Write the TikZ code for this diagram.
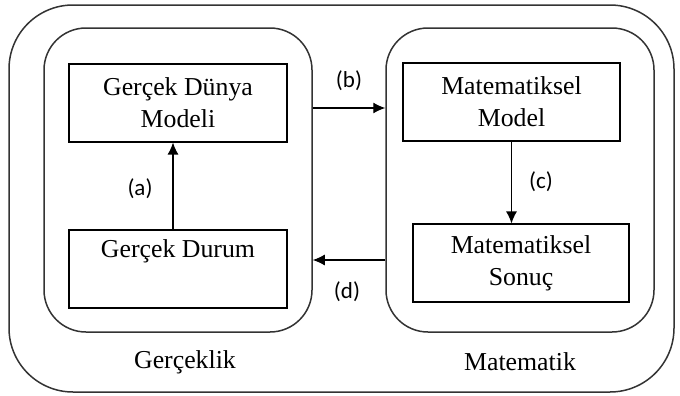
\documentclass[tikz,border=0pt]{standalone}
\usepackage{fontspec}
\setmainfont{Liberation Serif}
\newfontfamily\lblfont{Carlito}
\usetikzlibrary{arrows.meta}
\tikzset{
  frame/.style={draw=black!80, line width=0.75pt, rounded corners=#1, inner sep=0pt},
  stagebox/.style={draw, line width=0.55pt, inner sep=0pt, align=center,
    minimum width=109pt, minimum height=39pt,
    font=\fontsize{12.9}{16}\selectfont},
  arr/.style={line width=0.6pt, -{Latex[length=6pt,width=5.5pt]}},
  steplbl/.style={font=\lblfont\fontsize{11.5}{13}\selectfont, inner sep=0pt},
  arealbl/.style={font=\fontsize{12.9}{15.5}\selectfont, inner sep=0pt}
}
\begin{document}
\begin{tikzpicture}[x=0.5pt, y=-0.5pt]
\useasboundingbox (0,0) rectangle (680,396);
% outer frame
\node[frame=32pt, minimum width=332.5pt, minimum height=193.5pt] (outer) at (341.5,198.5) {};
% the two domains
\node[frame=21pt, minimum width=134pt, minimum height=152pt] (L) at (178,180) {};
\node[frame=21pt, minimum width=134pt, minimum height=152pt] (R) at (520,180) {};
% boxes
\node[stagebox] (GDM) at (178,103) {Gerçek Dünya\\Modeli};
\node[stagebox] (GD) at (178,269) {Gerçek Durum\\\strut};
\node[stagebox, minimum width=108.5pt] (MM) at (511.5,102) {Matematiksel\\Model};
\node[stagebox, minimum width=108pt] (MS) at (521,263) {Matematiksel\\Sonuç};
% connectors
\draw[arr] ([xshift=-2.5pt]GD.north) -- ([xshift=-2.5pt]GDM.south);
\draw[arr] ([yshift=36pt]L.east) -- ([yshift=36pt]R.west);
\draw[arr] (MM.south) -- (MM.south |- MS.north);
\draw[arr] ([yshift=-40pt]R.west) -- ([yshift=-40pt]L.east);
% step labels
\node[steplbl] (la) at (140,189) {(a)};
\node[steplbl] (lb) at (349,81) {(b)};
\node[steplbl] (lc) at (541,182) {(c)};
\node[steplbl] (ld) at (347,292) {(d)};
% area labels
\node[arealbl] (real) at (185,362) {Gerçeklik};
\node[arealbl] (math) at (520,362) {Matematik};
\end{tikzpicture}
\end{document}
